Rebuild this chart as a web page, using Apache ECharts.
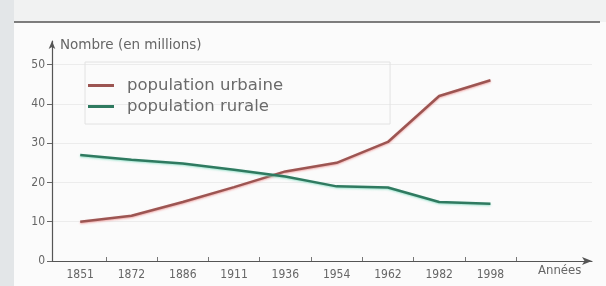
<!DOCTYPE html>
<html>
<head>
<meta charset="utf-8">
<script src="https://cdn.jsdelivr.net/npm/echarts@6/dist/echarts.min.js"></script>
<style>
  html, body { margin: 0; padding: 0; background: #fbfbfb; }
  #main { width: 606px; height: 286px; }
</style>
</head>
<body>
<div id="main"></div>
<script>
    var years = ['1851', '1872', '1886', '1911', '1936', '1954', '1962', '1982', '1998'];
    var urbaine = [10, 11.5, 15, 18.8, 22.8, 25, 30.3, 42, 46];
    var rurale = [27, 25.8, 24.8, 23.2, 21.5, 19, 18.7, 15, 14.6];
    var yTicks = [0, 10, 20, 30, 40, 50];

    var myChart = echarts.init(document.getElementById('main'));

    // points placed on index positions so the axis can run past the last year
    var urbData = urbaine.map(function (v, i) { return [i, v]; });
    var rurData = rurale.map(function (v, i) { return [i, v]; });

    var labelFont = "'DejaVu Sans Condensed', 'Liberation Sans Narrow', sans-serif";

    option = {
        backgroundColor: '#fbfbfb',
        animation: false,
        grid: { left: 52, right: 14, top: 41, bottom: 25 },
        title: {
            text: 'Nombre (en millions)',
            left: 55,
            top: 33,
            textStyle: { fontFamily: "'DejaVu Sans', sans-serif", fontSize: 13.5, fontWeight: 'normal', color: '#666' }
        },
        legend: {
            orient: 'vertical',
            left: 85,
            top: 62,
            padding: [15, 107, 9, 3],
            itemGap: 4,
            itemWidth: 26,
            itemHeight: 3,
            icon: 'rect',
            borderColor: '#e2e2e2',
            borderWidth: 1,
            textStyle: {
                fontFamily: "'DejaVu Sans', sans-serif",
                fontSize: 16.5,
                color: '#6a6a6a',
                padding: [0, 0, 0, 8]
            },
            data: ['population urbaine', 'population rurale']
        },
        xAxis: {
            type: 'value',
            min: -0.55,
            max: 9.98,
            axisLine: {
                show: true,
                onZero: false,
                symbol: ['none', 'arrow'],
                symbolSize: [6, 10],
                lineStyle: { color: '#555', width: 1.2 }
            },
            axisTick: {
                show: true,
                inside: true,
                length: 4,
                customValues: [0.5, 1.5, 2.5, 3.5, 4.5, 5.5, 6.5, 7.5, 8.5],
                lineStyle: { color: '#777' }
            },
            axisLabel: {
                customValues: [0, 1, 2, 3, 4, 5, 6, 7, 8],
                formatter: function (v) { return years[Math.round(v)]; },
                fontFamily: labelFont,
                fontSize: 12,
                color: '#666',
                margin: 8
            },
            splitLine: { show: false }
        },
        yAxis: {
            type: 'value',
            min: 0,
            max: 56,
            axisLine: {
                show: true,
                onZero: false,
                symbol: ['none', 'arrow'],
                symbolSize: [5, 8],
                lineStyle: { color: '#555', width: 1.2 }
            },
            axisTick: {
                show: true,
                length: 5,
                customValues: yTicks,
                lineStyle: { color: '#666' }
            },
            axisLabel: {
                customValues: yTicks,
                fontFamily: labelFont,
                fontSize: 12,
                color: '#666',
                margin: 7
            },
            splitLine: {
                show: true,
                lineStyle: { color: '#ececec', width: 1 }
            }
        },
        graphic: [
            { type: 'rect', left: 0, top: 0, shape: { width: 14, height: 286 }, style: { fill: '#e3e6e8' }, z: 100 },
            { type: 'rect', left: 14, top: 0, shape: { width: 592, height: 22 }, style: { fill: '#f1f2f2' }, z: 100 },
            { type: 'line', shape: { x1: 14, y1: 22, x2: 600, y2: 22 }, style: { stroke: '#555', lineWidth: 1.5 }, z: 100 },
            { type: 'text', left: 538, top: 264, style: { text: 'Années', font: "13px " + labelFont, fill: '#666' } }
        ],
        series: [
            {
                name: 'population urbaine',
                type: 'line',
                symbol: 'none',
                data: urbData,
                lineStyle: { color: '#9c5552', width: 2.5, shadowColor: 'rgba(240,150,150,0.8)', shadowBlur: 2, shadowOffsetY: 1 },
                itemStyle: { color: '#9c5552' }
            },
            {
                name: 'population rurale',
                type: 'line',
                symbol: 'none',
                data: rurData,
                lineStyle: { color: '#2f7a60', width: 2.5, shadowColor: 'rgba(120,220,190,0.7)', shadowBlur: 2, shadowOffsetY: 1 },
                itemStyle: { color: '#2f7a60' }
            }
        ]
    };
    myChart.setOption(option);
</script>
</body>
</html>
